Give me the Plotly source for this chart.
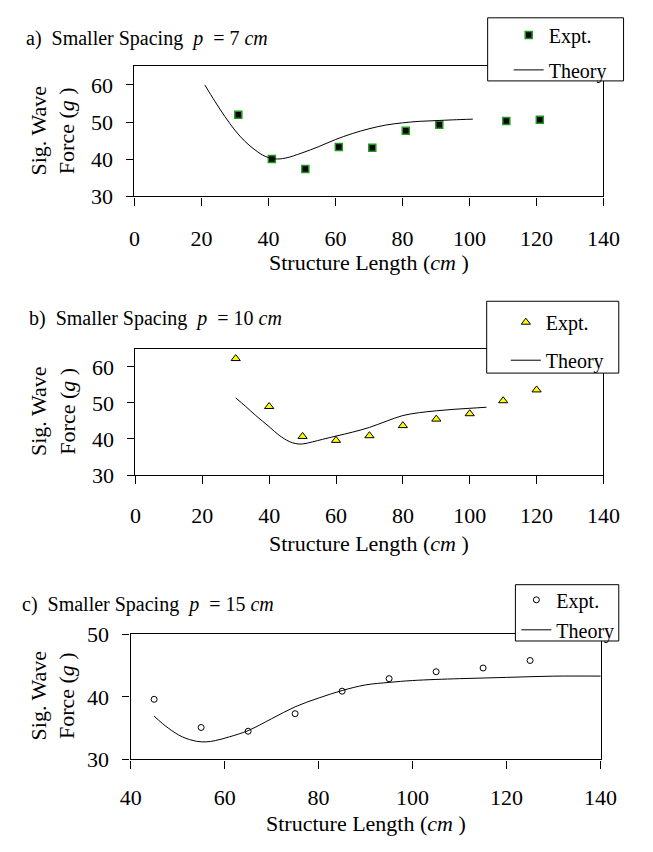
import plotly.graph_objects as go

# ---------------- data ----------------
a_expt_x = [31, 41, 51, 61, 71, 81, 91, 111, 121]
a_expt_y = [52.0, 40.1, 37.4, 43.3, 43.1, 47.7, 49.3, 50.3, 50.6]
a_theory_x = [21, 24, 27, 30, 33, 36, 39, 42, 45, 50, 55, 60, 65, 70, 75, 80, 85, 90, 95, 101]
a_theory_y = [60.0, 55.6, 51.5, 47.8, 44.8, 42.5, 40.8, 40.1, 40.3, 41.7, 43.4, 45.3, 46.9, 48.2,
              49.2, 49.8, 50.2, 50.4, 50.6, 50.8]

b_expt_x = [30, 40, 50, 60, 70, 80, 90, 100, 110, 120]
b_expt_y = [62.3, 49.0, 40.7, 39.6, 40.9, 43.7, 45.5, 47.0, 50.6, 53.6]
b_theory_x = [30, 33, 36, 40, 43, 46, 48, 50, 53, 56, 60, 65, 70, 75, 80, 85, 90, 95, 100, 105]
b_theory_y = [51.4, 49.0, 46.5, 43.4, 41.0, 39.3, 38.7, 38.6, 39.2, 39.9, 40.8, 41.9, 43.2, 44.9,
              46.5, 47.3, 47.8, 48.2, 48.5, 48.8]

c_expt_x = [45, 55, 65, 75, 85, 95, 105, 115, 125]
c_expt_y = [39.6, 35.1, 34.5, 37.3, 40.9, 42.9, 44.0, 44.6, 45.8]
c_theory_x = [45, 48, 51, 54, 56, 58, 61, 65, 70, 75, 80, 85, 90, 95, 100, 110, 120, 130, 141]
c_theory_y = [36.9, 35.0, 33.6, 32.9, 32.8, 33.0, 33.6, 34.6, 36.5, 38.4, 39.8, 41.0, 41.9, 42.3,
              42.6, 42.9, 43.1, 43.3, 43.3]

panel_titles = ["a)\u00a0 Smaller Spacing\u00a0 <i>p</i>\u00a0 = 7 <i>cm</i>",
                "b)\u00a0 Smaller Spacing\u00a0 <i>p</i>\u00a0 = 10 <i>cm</i>",
                "c)\u00a0 Smaller Spacing\u00a0 <i>p</i>\u00a0 = 15 <i>cm</i>"]
x_title = "Structure Length (<i>cm</i>\u00a0)"
y_title = "Sig. Wave<br>Force (<i>g</i>\u00a0)"
legend_names = ["Expt.", "Theory"]

W, H = 653, 852
FONT = "Liberation Serif, Times New Roman, DejaVu Serif, serif"


def px(x):
    return x / W


def py(y):
    return 1 - y / H


fig = go.Figure()

# ---- traces ----
fig.add_trace(go.Scatter(x=a_expt_x, y=a_expt_y, mode="markers", name=legend_names[0],
                         xaxis="x", yaxis="y", legend="legend", legendgroup="a1",
                         marker=dict(symbol="square", size=7, color="black",
                                     line=dict(color="#1f9a1f", width=1.5))))
fig.add_trace(go.Scatter(x=a_theory_x, y=a_theory_y, mode="lines", name=legend_names[1],
                         xaxis="x", yaxis="y", legend="legend", legendgroup="a2",
                         line=dict(color="black", width=1, shape="spline")))

fig.add_trace(go.Scatter(x=b_expt_x, y=b_expt_y, mode="markers", name=legend_names[0],
                         xaxis="x2", yaxis="y2", legend="legend2", legendgroup="b1",
                         marker=dict(symbol="triangle-up", size=8, color="#ffff00",
                                     line=dict(color="black", width=1))))
fig.add_trace(go.Scatter(x=b_theory_x, y=b_theory_y, mode="lines", name=legend_names[1],
                         xaxis="x2", yaxis="y2", legend="legend2", legendgroup="b2",
                         line=dict(color="black", width=1, shape="spline")))

fig.add_trace(go.Scatter(x=c_expt_x, y=c_expt_y, mode="markers", name=legend_names[0],
                         xaxis="x3", yaxis="y3", legend="legend3", legendgroup="c1",
                         marker=dict(symbol="circle", size=6, color="white",
                                     line=dict(color="black", width=1))))
fig.add_trace(go.Scatter(x=c_theory_x, y=c_theory_y, mode="lines", name=legend_names[1],
                         xaxis="x3", yaxis="y3", legend="legend3", legendgroup="c2",
                         line=dict(color="black", width=1, shape="spline")))

# ---- axes ----
common = dict(showline=True, linecolor="black", linewidth=1.3, mirror=True,
              ticks="outside", ticklen=8, tickwidth=1, tickcolor="black",
              showgrid=False, zeroline=False,
              tickfont=dict(family=FONT, size=22, color="black"))

panels = [
    dict(xd=(129, 619), yd=(56, 190), xr=[0, 140], yr=[30, 65], yt=[30, 40, 50, 60], st=14),
    dict(xd=(130, 619), yd=(347, 477), xr=[0, 140], yr=[30, 65], yt=[30, 40, 50, 60], st=12),
    dict(xd=(125, 616), yd=(641, 770), xr=[40, 140], yr=[30, 50], yt=[30, 40, 50], st=10),
]

layout_axes = {}
for i, p in enumerate(panels):
    sfx = "" if i == 0 else str(i + 1)
    layout_axes["xaxis" + sfx] = dict(common, domain=[px(p["xd"][0]), px(p["xd"][1])],
                                      range=p["xr"], dtick=20, tick0=0,
                                      anchor="y" + sfx, ticklabelstandoff=p["st"])
    layout_axes["yaxis" + sfx] = dict(common, domain=[py(p["yd"][1]), py(p["yd"][0])],
                                      range=p["yr"], tickvals=p["yt"],
                                      anchor="x" + sfx, ticklen=7, ticklabelstandoff=9)

fig.update_layout(**layout_axes)

# ---- annotations ----
ann = []
title_pos = [(14, 27), (17, 316), (9, 610)]
xt_pos = [258, 548, 836]
yt_pos = [123, 412, 705]
for i, p in enumerate(panels):
    ann.append(dict(text=panel_titles[i], x=px(title_pos[i][0]), y=py(title_pos[i][1]),
                    xref="paper", yref="paper", xanchor="left", yanchor="middle",
                    showarrow=False, font=dict(family=FONT, size=20, color="black")))
    ann.append(dict(text=x_title, x=px((p["xd"][0] + p["xd"][1]) / 2), y=py(xt_pos[i]),
                    xref="paper", yref="paper", xanchor="center", yanchor="middle",
                    showarrow=False, font=dict(family=FONT, size=22, color="black")))
    ann.append(dict(text=y_title, x=px(44), y=py(yt_pos[i]), textangle=-90,
                    xref="paper", yref="paper", xanchor="center", yanchor="middle",
                    showarrow=False, font=dict(family=FONT, size=22, color="black")))

# ---- legend boxes ----
boxes = [(498, 6, 640, 71), (497, 298, 635, 372), (527, 590, 635, 648)]
shapes = [dict(type="rect", xref="paper", yref="paper", x0=px(b[0]), x1=px(b[2]),
               y0=py(b[3]), y1=py(b[1]), line=dict(color="black", width=1),
               fillcolor="white", layer="above") for b in boxes]

leg_common = dict(bgcolor="rgba(0,0,0,0)", borderwidth=0, xanchor="left", yanchor="top",
                  traceorder="grouped", font=dict(family=FONT, size=20, color="black"))

fig.update_layout(
    width=W, height=H, margin=dict(l=0, r=0, t=0, b=0),
    paper_bgcolor="white", plot_bgcolor="white",
    font=dict(family=FONT, color="black"),
    showlegend=True,
    legend=dict(leg_common, x=px(520), y=py(3.5), tracegroupgap=6),
    legend2=dict(leg_common, x=px(517), y=py(299.5), tracegroupgap=9),
    legend3=dict(leg_common, x=px(528), y=py(585.5), tracegroupgap=1),
    annotations=ann, shapes=shapes,
)

fig.write_html("out.html", config={"displayModeBar": False},
               post_script="document.body.style.margin='0';")
